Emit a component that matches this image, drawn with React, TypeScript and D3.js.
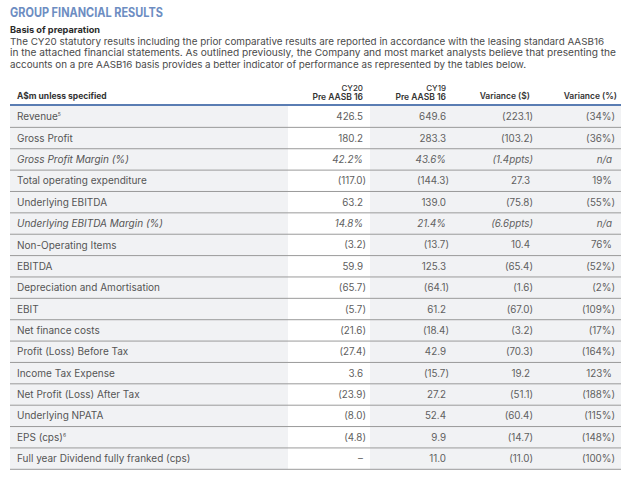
import React from 'react';
import * as d3 from 'd3';

const titleText = 'GROUP FINANCIAL RESULTS';
const subTitle = 'Basis of preparation';
const paragraph = [
  'The CY20 statutory results including the prior comparative results are reported in accordance with the leasing standard AASB16',
  'in the attached financial statements. As outlined previously, the Company and most market analysts believe that presenting the',
  'accounts on a pre AASB16 basis provides a better indicator of performance as represented by the tables below.',
];

const firstHeader = 'A$m unless specified';
const columnKeys = ['cy20', 'cy19', 'varDollar', 'varPct'];
const columnHeaders = [['CY20', 'Pre AASB 16'], ['CY19', 'Pre AASB 16'], ['Variance ($)'], ['Variance (%)']];

const rowLabels = [
  'Revenue', 'Gross Profit', 'Gross Profit Margin (%)', 'Total operating expenditure', 'Underlying EBITDA',
  'Underlying EBITDA Margin (%)', 'Non-Operating Items', 'EBITDA', 'Depreciation and Amortisation', 'EBIT',
  'Net finance costs', 'Profit (Loss) Before Tax', 'Income Tax Expense', 'Net Profit (Loss) After Tax',
  'Underlying NPATA', 'EPS (cps)', 'Full year Dividend fully franked (cps)',
];
const cy20 = ['426.5', '180.2', '42.2%', '(117.0)', '63.2', '14.8%', '(3.2)', '59.9', '(65.7)', '(5.7)', '(21.6)', '(27.4)', '3.6', '(23.9)', '(8.0)', '(4.8)', '–'];
const cy19 = ['649.6', '283.3', '43.6%', '(144.3)', '139.0', '21.4%', '(13.7)', '125.3', '(64.1)', '61.2', '(18.4)', '42.9', '(15.7)', '27.2', '52.4', '9.9', '11.0'];
const varDollar = ['(223.1)', '(103.2)', '(1.4ppts)', '27.3', '(75.8)', '(6.6ppts)', '10.4', '(65.4)', '(1.6)', '(67.0)', '(3.2)', '(70.3)', '19.2', '(51.1)', '(60.4)', '(14.7)', '(11.0)'];
const varPct = ['(34%)', '(36%)', 'n/a', '19%', '(55%)', 'n/a', '76%', '(52%)', '(2%)', '(109%)', '(17%)', '(164%)', '123%', '(188%)', '(115%)', '(148%)', '(100%)'];
const italicRows = ['Gross Profit Margin (%)', 'Underlying EBITDA Margin (%)'];
const footnotes: Record<string, string> = { Revenue: '5', 'EPS (cps)': '6' };

const columnValues: Record<string, string[]> = { cy20, cy19, varDollar, varPct };

const FONT = 'Inter, "Open Sans", sans-serif';

export default function App() {
  const width = 630;
  const height = 480;
  const tableLeft = 10;
  const tableRight = 621;

  const y = d3.scaleBand<string>().domain(rowLabels).range([106, 469.3]).padding(0);
  const colRight = d3.scaleOrdinal<string, number>().domain(columnKeys).range([366, 449, 533, 615]);
  const colBgX = d3.scaleOrdinal<string, number>().domain(['label', 'cy20', 'rest']).range([tableLeft, 288, 370]);

  const rowTop = y(rowLabels[0]) as number;
  const rowBottom = (y(rowLabels[rowLabels.length - 1]) as number) + y.bandwidth();

  const valueX = (key: string, v: string) => {
    const edge = colRight(key);
    return v.endsWith(')') ? edge : edge - 3;
  };

  return (
    <div style={{ position: 'fixed', left: 0, top: 0 }}>
      <svg width={width} height={height} style={{ display: 'block', background: '#ffffff' }} fontFamily={FONT}>
        <text x={10} y={17} fontSize={12.5} fontWeight={700} fill="#6d8dc2" textLength={153} lengthAdjust="spacingAndGlyphs">
          {titleText}
        </text>
        <text x={10} y={32.5} fontSize={9} fontWeight={700} fill="#2b2b2b" textLength={90} lengthAdjust="spacingAndGlyphs">
          {subTitle}
        </text>
        {paragraph.map((line, i) => {
          const ends = [604, 616, 526];
          return (
            <text key={i} x={10} y={45 + i * 11.4} fontSize={9.3} fill="#4a4a4a" textLength={ends[i] - 10} lengthAdjust="spacingAndGlyphs">
              {line}
            </text>
          );
        })}

        {/* column backgrounds */}
        <rect x={colBgX('label')} y={rowTop} width={colBgX('cy20') - colBgX('label')} height={rowBottom - rowTop} fill="#f1f2f4" />
        <rect x={colBgX('cy20')} y={rowTop} width={colBgX('rest') - colBgX('cy20')} height={rowBottom - rowTop} fill="#ffffff" />
        <rect x={colBgX('rest')} y={rowTop} width={tableRight - colBgX('rest')} height={rowBottom - rowTop} fill="#f1f2f4" />

        {/* header */}
        <text x={17} y={99} fontSize={8.5} fontWeight={700} fill="#333">
          {firstHeader}
        </text>
        {columnHeaders.map((lines, ci) => {
          const key = columnKeys[ci];
          const right = key === 'varDollar' ? 530 : key === 'varPct' ? 617 : colRight(key) - 3;
          return lines.map((ln, li) => (
            <text
              key={key + li}
              x={right}
              y={lines.length === 2 ? 90.5 + li * 9.5 : 99}
              fontSize={lines.length === 2 && li === 0 ? 8 : 8.5}
              fontWeight={li === 0 && lines.length === 2 ? 500 : 600}
              fill="#333"
              textAnchor="end"
            >
              {ln}
            </text>
          ));
        })}
        <line x1={tableLeft} x2={tableRight} y1={105} y2={105} stroke="#5a7db3" strokeWidth={2.2} />

        {/* rows */}
        {rowLabels.map((label, i) => {
          const top = y(label) as number;
          const cy = top + y.bandwidth() / 2;
          const italic = italicRows.includes(label);
          const note = footnotes[label];
          return (
            <g key={label}>
              <text x={17} y={cy + 3.6} fontSize={10} fill="#555" fontStyle={italic ? 'italic' : 'normal'}>
                {label}
                {note ? (
                  <tspan fontSize={5} dy={-3.8}>
                    {note}
                  </tspan>
                ) : null}
              </text>
              {columnKeys.map((key) => {
                const v = columnValues[key][i];
                return (
                  <text
                    key={key}
                    x={valueX(key, v)}
                    y={cy + 3.5}
                    fontSize={9.8}
                    fill="#606060"
                    textAnchor="end"
                    fontStyle={italic ? 'italic' : 'normal'}
                  >
                    {v}
                  </text>
                );
              })}
              <line x1={tableLeft} x2={tableRight} y1={top + y.bandwidth()} y2={top + y.bandwidth()} stroke="#9a9a9a" strokeWidth={1} />
            </g>
          );
        })}
      </svg>
    </div>
  );
}
